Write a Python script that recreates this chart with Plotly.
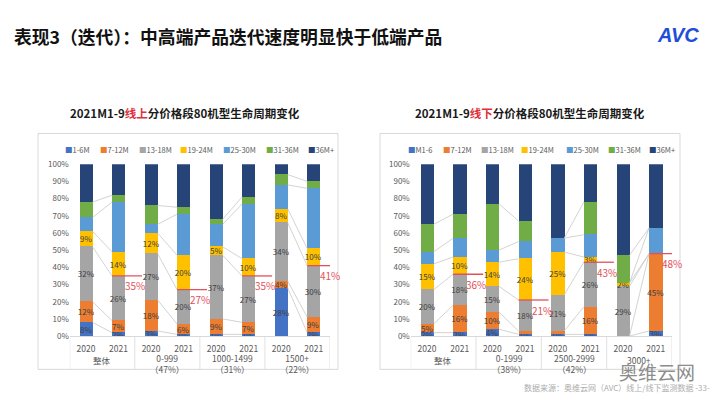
import plotly.graph_objects as go

# ---------------- data ----------------
years = ["2020", "2021", "2020", "2021", "2020", "2021", "2020", "2021"]
series_colors = ["#4472C4", "#ED7D31", "#A5A5A5", "#FFC000", "#5B9BD5", "#70AD47", "#264478"]

left_title = "2021M1-9<span style='color:#E0303C'>线上</span>分价格段80机型生命周期变化"
left_legend = ["1-6M", "7-12M", "13-18M", "19-24M", "25-30M", "31-36M", "36M+"]
left_groups = ["整体", "0-999<br>（47%）", "1000-1499<br>（31%）", "1500+<br>（22%）"]
left_m1_6 = [8, 2, 3, 1, 1, 1, 28, 2]
left_m7_12 = [12, 7, 18, 6, 9, 7, 4, 9]
left_m13_18 = [32, 26, 27, 20, 37, 27, 34, 30]
left_m19_24 = [9, 14, 12, 20, 5, 10, 8, 10]
left_m25_30 = [8, 29, 5, 24, 13, 32, 14, 35]
left_m31_36 = [9, 4, 11, 4, 3, 4, 6, 4]
left_m36p = [22, 18, 24, 25, 32, 19, 6, 10]

right_title = "2021M1-9<span style='color:#E0303C'>线下</span>分价格段80机型生命周期变化"
right_legend = ["M1-6", "7-12M", "13-18M", "19-24M", "25-30M", "31-36M", "36M+"]
right_groups = ["整体", "0-1999<br>（38%）", "2500-2999<br>（42%）", "3000+"]
right_m1_6 = [2, 2, 4, 1, 1, 1, 0, 3]
right_m7_12 = [5, 16, 10, 2, 2, 16, 0, 45]
right_m13_18 = [20, 18, 15, 18, 21, 26, 29, 0]
right_m19_24 = [15, 10, 14, 24, 25, 3, 2, 0]
right_m25_30 = [7, 11, 7, 10, 8, 13, 0, 15]
right_m31_36 = [16, 14, 27, 12, 0, 19, 16, 0]
right_m36p = [35, 29, 23, 33, 43, 22, 53, 37]

y_ticks = [0, 10, 20, 30, 40, 50, 60, 70, 80, 90, 100]
y_tick_text = ["0%", "10%", "20%", "30%", "40%", "50%", "60%", "70%", "80%", "90%", "100%"]

# ---------------- helpers ----------------
W, H = 720, 405
FONT = "Noto Sans CJK SC, Liberation Sans, sans-serif"
GRAY = "#595959"
RED = "#E2505C"


def px(x):
    return x / W


def py(y):
    return 1 - y / H


fig = go.Figure()
annotations = []
shapes = []

charts = [
    dict(series=[left_m1_6, left_m7_12, left_m13_18, left_m19_24, left_m25_30, left_m31_36, left_m36p],
         legend=left_legend, groups=left_groups, title=left_title, xa="x", ya="y",
         title_x=185, box=(38, 131, 338, 373.5),
         leg_x=[63, 98, 137, 178, 221, 264, 306]),
    dict(series=[right_m1_6, right_m7_12, right_m13_18, right_m19_24, right_m25_30, right_m31_36, right_m36p],
         legend=right_legend, groups=right_groups, title=right_title, xa="x2", ya="y2",
         title_x=530, box=(380, 131, 680, 373.5),
         leg_x=[406, 441, 479, 519, 564, 606, 647]),
]

BW = 0.4
for c in charts:
    series = c["series"]
    n = len(series[0])
    xs = list(range(n))
    for k, vals in enumerate(series):
        txt = []
        for v in vals:
            show = k < 4 and v > 0 and not (k == 1 and v <= 2)
            txt.append(f"{v}%" if show else "")
        fig.add_trace(go.Bar(
            x=xs, y=vals, width=BW, marker=dict(color=series_colors[k], line=dict(width=0)),
            text=txt, textposition="inside", insidetextanchor="middle", textangle=0,
            textfont=dict(size=8, color="#404040", family=FONT),
            name=c["legend"][k], showlegend=False, xaxis=c["xa"], yaxis=c["ya"],
            hoverinfo="skip"))
    # cumulative levels
    cums = []
    for i in range(n):
        s, arr = 0, []
        for k in range(len(series)):
            s += series[k][i]
            arr.append(s)
        cums.append(arr)
    # series connector lines within each group
    lx, ly = [], []
    for i in range(0, n, 2):
        for k in range(len(series) - 1):
            lx += [i + BW / 2, i + 1 - BW / 2, None]
            ly += [cums[i][k], cums[i + 1][k], None]
    fig.add_trace(go.Scatter(x=lx, y=ly, mode="lines", line=dict(color="#C8C8C8", width=0.8),
                             showlegend=False, xaxis=c["xa"], yaxis=c["ya"], hoverinfo="skip"))
    # red 18-month share markers on 2021 bars
    for i in range(1, n, 2):
        lvl = cums[i][2]
        fig.add_trace(go.Scatter(x=[i - BW / 2, i + 0.72], y=[lvl, lvl], mode="lines",
                                 line=dict(color=RED, width=1.3), showlegend=False,
                                 xaxis=c["xa"], yaxis=c["ya"], hoverinfo="skip"))
        annotations.append(dict(x=i + 0.45, y=lvl, xref=c["xa"], yref=c["ya"], text=f"{lvl}%",
                                showarrow=False, xshift=2, yshift=-10,
                                font=dict(size=10, color=RED, family=FONT)))
    # group labels and dividers
    for g, lab in enumerate(c["groups"]):
        annotations.append(dict(x=2 * g + 0.5, y=py(367 if "<br>" in lab else 364), xref=c["xa"], yref="paper",
                                text=lab, showarrow=False, yanchor="middle",
                                font=dict(size=8.5, color=GRAY, family=FONT)))
    for b in [-0.5, 1.5, 3.5, 5.5, 7.5]:
        shapes.append(dict(type="line", xref=c["xa"], yref="paper", x0=b, x1=b, y0=py(340), y1=py(373.5),
                           line=dict(color="#D9D9D9", width=0.8)))
    # chart border
    x0, y0, x1, y1 = c["box"]
    shapes.append(dict(type="rect", xref="paper", yref="paper", x0=px(x0), x1=px(x1), y0=py(y1), y1=py(y0),
                       line=dict(color="#D9D9D9", width=1)))
    # chart title
    annotations.append(dict(x=px(c["title_x"]), y=py(110), xref="paper", yref="paper", text="<b>" + c["title"] + "</b>",
                            showarrow=False, xanchor="center", yanchor="middle",
                            font=dict(size=11.5, color="#1a1a1a", family=FONT)))
    # legend
    for k, lab in enumerate(c["legend"]):
        annotations.append(dict(x=px(c["leg_x"][k]), y=py(147), xref="paper", yref="paper",
                                text=f"<span style='color:{series_colors[k]}'>■</span>{lab}",
                                showarrow=False, xanchor="left", yanchor="middle",
                                font=dict(size=7.5, color=GRAY, family=FONT)))

# main title and decorations
annotations.append(dict(x=px(12), y=py(31), xref="paper", yref="paper",
                        text="<b>表现3（迭代）：中高端产品迭代速度明显快于低端产品</b>",
                        showarrow=False, xanchor="left", yanchor="middle",
                        font=dict(size=17.8, color="#111111", family=FONT)))
annotations.append(dict(x=px(678), y=py(30), xref="paper", yref="paper", text="<b><i>AVC</i></b>",
                        showarrow=False, xanchor="center", yanchor="middle",
                        font=dict(size=20, color="#1F4FD8", family="Liberation Sans, sans-serif")))
annotations.append(dict(x=px(657), y=py(376), xref="paper", yref="paper", text="奥维云网",
                        showarrow=False, xanchor="center", yanchor="middle",
                        font=dict(size=19, color="#8C8C8C", family=FONT)))
annotations.append(dict(x=px(712), y=py(392), xref="paper", yref="paper",
                        text="数据来源：奥维云网（AVC）线上/线下监测数据 -33-",
                        showarrow=False, xanchor="right", yanchor="middle",
                        font=dict(size=8, color="#ADADAD", family=FONT)))

yd = (py(339.3), py(162.7))
axis_common = dict(range=[-0.5, 7.5], tickmode="array", tickvals=list(range(8)), ticktext=years,
                   showgrid=False, zeroline=False, showline=True, linecolor="#D9D9D9", linewidth=1,
                   ticks="", ticklabelstandoff=5, tickfont=dict(size=8.5, color=GRAY, family=FONT),
                   fixedrange=True)
yaxis_common = dict(range=[0, 100], tickmode="array", tickvals=y_ticks, ticktext=y_tick_text,
                    showgrid=False, zeroline=False, showline=False, ticks="",
                    tickfont=dict(size=8, color=GRAY, family=FONT), domain=list(yd), fixedrange=True)

fig.update_layout(
    width=W, height=H, margin=dict(l=0, r=0, t=0, b=0),
    paper_bgcolor="white", plot_bgcolor="white", barmode="stack", bargap=0,
    uniformtext=dict(minsize=8, mode="show"),
    xaxis=dict(domain=[px(69.75), px(330.0)], anchor="y", **axis_common),
    yaxis=dict(anchor="x", **yaxis_common),
    xaxis2=dict(domain=[px(410.7), px(672.0)], anchor="y2", **axis_common),
    yaxis2=dict(anchor="x2", **yaxis_common),
    annotations=annotations, shapes=shapes, showlegend=False,
    font=dict(family=FONT),
)

fig.write_html("out.html")
